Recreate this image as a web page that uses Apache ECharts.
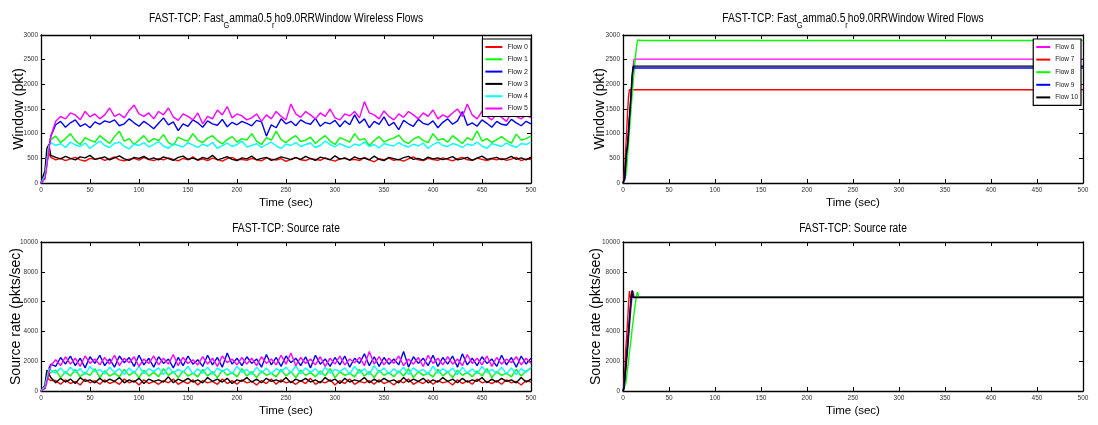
<!DOCTYPE html>
<html><head><meta charset="utf-8">
<script src="https://cdn.jsdelivr.net/npm/echarts@6/dist/echarts.min.js"></script>
<style>html,body{margin:0;padding:0;background:#fff}#c{width:1098px;height:425px}</style>
</head><body><div id="c"></div>
<script>
// ---------- DATA ----------
const X_TICKS = [0, 50, 100, 150, 200, 250, 300, 350, 400, 450, 500];
const Y_TICKS_WIN = [0, 500, 1000, 1500, 2000, 2500, 3000];
const Y_TICKS_RATE = [0, 2000, 4000, 6000, 8000, 10000];

// sample times (sec) for wireless flows
const T_WL = [0,2,4,6,8,10,15,20,25,30,35,40,45,50,55,60,65,70,75,80,85,90,95,100,105,110,115,120,125,130,135,140,145,150,155,160,165,170,175,180,185,190,195,200,205,210,215,220,225,230,235,240,245,250,255,260,265,270,275,280,285,290,295,300,305,310,315,320,325,330,335,340,345,350,355,360,365,370,375,380,385,390,395,400,405,410,415,420,425,430,435,440,445,450,455,460,465,470,475,480,485,490,495,500];

// Wireless window (pkt)
const WIN_F0 = [0,20,150,420,600,520,
 470,500,455,490,520,470,445,500,480,510,
 460,490,530,470,450,485,500,465,520,475,
 455,495,470,510,480,450,500,470,530,460,
 490,455,505,475,445,495,520,470,480,460,
 500,470,450,510,485,465,495,440,480,520,
 470,455,500,480,460,510,475,445,490,500,
 465,480,455,520,470,430,495,475,505,460,
 480,445,490,530,470,455,500,475,460,510,
 480,450,495,520,470,460,505,480,455,490,
 470,500,460,485,520,455,490,475];
const WIN_F1 = [0,10,120,400,750,880,
 950,820,900,1000,860,780,920,870,830,960,
 880,800,940,1050,850,900,780,870,960,830,
 900,860,980,820,760,930,880,850,1000,870,
 820,910,960,860,790,880,940,830,900,870,
 1000,850,780,920,870,1050,880,820,900,960,
 840,870,930,800,890,960,850,780,920,880,
 830,1000,870,900,760,860,940,830,880,910,
 970,850,800,890,940,860,820,1000,870,900,
 830,960,880,800,920,870,1060,850,900,820,
 880,940,860,810,990,870,900,950];
const WIN_F2 = [0,10,100,400,700,950,
 1180,1250,1130,1220,1280,1150,1200,1120,1240,1190,
 1260,1230,1280,1160,1200,1300,1220,1150,1250,1180,
 1100,1210,1320,1180,1240,1060,1200,1150,1280,1220,
 1130,1260,1200,1170,1290,1140,1230,1180,1250,1210,
 1160,1270,1240,950,1180,1120,1300,1200,1250,1160,
 1280,1220,1190,1310,1150,1230,1200,1270,1140,1260,
 1180,1380,1210,1300,1120,1250,1190,1340,1160,1230,
 1080,1270,1200,1150,1290,1210,1180,1260,1120,1230,
 1300,1190,1260,1450,1170,1220,1150,1280,1210,1130,
 1250,1190,1170,1290,1220,1160,1250,1200];
const WIN_F3 = [0,30,250,700,780,560,
 520,490,540,500,470,530,510,560,480,500,
 530,470,510,550,490,460,520,500,540,480,
 510,470,530,495,460,520,545,480,505,470,
 520,490,560,470,500,535,480,455,510,490,
 545,470,500,520,460,490,530,505,475,515,
 480,540,495,460,525,500,470,550,485,510,
 465,530,490,505,470,545,480,455,520,495,
 470,515,540,480,500,465,525,490,510,475,
 500,535,470,490,520,460,505,545,480,500,
 520,475,495,540,480,510,470,525];
const WIN_F4 = [0,15,150,450,750,820,
 760,800,720,830,770,740,810,700,780,850,
 760,720,800,830,740,690,790,760,820,730,
 780,840,750,700,800,760,730,820,770,720,
 790,750,820,700,760,810,740,780,850,730,
 760,800,720,780,830,750,700,790,760,820,
 740,780,810,720,760,850,780,730,800,750,
 720,790,760,830,740,780,710,800,770,750,
 820,760,730,790,750,810,700,780,830,760,
 740,800,770,720,790,760,830,750,700,800,
 770,740,810,760,720,800,780,830];
const WIN_F5 = [0,10,80,350,650,950,
 1250,1350,1300,1420,1380,1280,1450,1340,1400,1300,
 1380,1520,1350,1400,1320,1470,1580,1400,1350,1420,
 1300,1450,1380,1520,1340,1270,1400,1350,1280,1420,
 1200,1350,1300,1480,1380,1550,1320,1400,1360,1280,
 1320,1400,1250,1380,1300,1450,1350,1280,1600,1400,
 1330,1450,1380,1300,1420,1350,1500,1320,1280,1400,
 1360,1450,1320,1650,1420,1380,1300,1460,1350,1280,
 1400,1330,1450,1380,1300,1420,1350,1480,1300,1380,
 1330,1420,1500,1350,1600,1380,1300,1450,1350,1280,
 1400,1330,1250,1420,1350,1300,1380,1320];

// Wireless source rate (pkts/sec)
const RATE_F0 = [0,50,300,900,1000,700,
 700,450,750,500,650,400,800,550,700,450,
 750,500,650,450,800,550,700,400,750,500,
 650,450,700,550,800,450,650,500,750,400,
 700,550,650,450,800,500,700,450,750,550,
 650,400,700,500,800,450,750,550,650,450,
 700,500,850,450,650,550,750,400,700,500,
 800,450,650,550,700,450,750,500,650,400,
 700,550,800,450,650,500,750,450,700,550,
 650,400,750,500,700,450,800,550,650,500,
 700,450,750,550,650,400,700,600];
const RATE_F1 = [0,30,200,700,1100,1250,
 1400,900,1300,1000,1450,950,1250,1050,1500,900,
 1350,1000,1200,950,1450,1050,1300,900,1400,1000,
 1250,950,1500,1050,1300,900,1350,1000,1200,950,
 1450,1000,1300,900,1400,1050,1250,950,1500,1000,
 1300,900,1350,1050,1200,950,1450,1000,1300,900,
 1400,1050,1250,950,1350,1000,1500,900,1300,1050,
 1200,950,1450,1000,1300,900,1400,1050,1250,950,
 1350,1000,1500,900,1300,1050,1200,950,1450,1000,
 1300,900,1400,1050,1250,950,1350,1000,1500,900,
 1300,1050,1200,950,1450,1000,1350,1500];
const RATE_F2 = [0,30,200,800,1500,1800,
 1650,2250,1800,2350,1700,2200,1550,2300,1850,2400,
 1700,2150,1600,2350,1900,2250,1650,2400,1750,2200,
 1600,2300,1850,2150,1550,2250,1700,2350,1800,2100,
 1650,2400,1750,2250,1600,2550,1800,2200,1700,2300,
 1850,2150,1600,2450,1750,2250,1650,2350,1900,2200,
 1700,2300,1550,2400,1800,2150,1650,2250,1750,2350,
 1600,2200,1850,2500,1700,2300,1650,2250,1800,2150,
 1750,2650,1600,2300,1850,2200,1700,2400,1650,2250,
 1800,2350,1600,2500,1750,2200,1700,2300,1850,2150,
 1650,2400,1750,2250,1600,2350,1800,2200];
const RATE_F3 = [0,80,400,1400,1500,900,
 550,850,600,800,500,900,650,750,550,850,
 600,800,650,900,550,750,600,850,500,800,
 650,750,600,950,550,800,650,850,600,750,
 550,900,650,800,600,850,500,750,650,900,
 600,800,550,850,650,750,600,900,550,800,
 650,850,600,750,550,900,650,800,500,850,
 600,750,650,900,550,800,600,850,650,750,
 550,900,600,800,650,850,550,750,600,900,
 650,800,550,850,600,750,650,900,550,800,
 600,850,650,750,550,900,600,800];
const RATE_F4 = [0,40,300,900,1500,1600,
 1200,1550,1150,1600,1250,1500,1100,1650,1300,1450,
 1150,1600,1250,1500,1100,1550,1200,1650,1150,1500,
 1300,1550,1100,1600,1200,1450,1250,1650,1150,1500,
 1200,1600,1100,1550,1300,1500,1150,1650,1250,1450,
 1100,1600,1200,1550,1150,1500,1300,1600,1200,1700,
 1150,1550,1250,1500,1100,1600,1200,1450,1300,1550,
 1150,1650,1200,1500,1100,1700,1250,1550,1150,1500,
 1200,1600,1100,1550,1300,1450,1150,1650,1200,1500,
 1250,1550,1100,1600,1200,1500,1150,1650,1250,1450,
 1200,1600,1150,1550,1100,1500,1250,1600];
const RATE_F5 = [0,20,150,600,1200,1700,
 2100,1700,2300,1800,2200,1650,2350,1850,2150,1750,
 2250,1800,2400,1700,2200,1900,2300,1650,2150,1850,
 2350,1750,2200,1800,2450,1700,2250,1850,2100,1750,
 2300,1800,2200,1650,2350,1900,2150,1750,2250,1800,
 2200,1700,2300,1850,2150,1750,2400,1800,2550,1700,
 2250,1850,2150,1750,2300,1650,2200,1800,2350,1750,
 2150,1900,2250,1700,2650,1800,2300,1750,2200,1850,
 2350,1700,2150,1800,2250,1650,2400,1850,2200,1750,
 2300,1800,2150,1700,2450,1850,2200,1750,2350,1650,
 2250,1800,2150,1900,2300,1750,2200,1850];

// sample times (sec) for wired flows
const T_WD = [0,1,2,3,4,5,6,7,8,9,10,11,12,13,14,15,16,17,20,500];
const WIN_F6  = [0,0,60,300,550,800,1050,1300,1550,1800,2050,2300,2510,2510,2510,2510,2510,2510,2510,2510];
const WIN_F7  = [0,60,350,700,1050,1450,1750,1890,1890,1890,1890,1890,1890,1890,1890,1890,1890,1890,1890,1890];
const WIN_F8  = [0,0,0,150,300,550,800,1050,1300,1550,1800,2050,2250,2450,2650,2800,2900,2890,2890,2890];
const WIN_F9  = [0,0,100,400,650,800,1000,1300,1550,1850,2150,2330,2330,2330,2330,2330,2330,2330,2330,2330];
const WIN_F10 = [0,0,120,450,650,750,1050,1350,1600,1900,2200,2370,2370,2370,2370,2370,2370,2370,2370,2370];
const RATE_F6  = [0,100,600,1300,2000,2700,3500,4300,5100,5800,6400,6700,6300,6295,6295,6295,6295,6295,6295,6295];
const RATE_F7  = [0,400,1500,2800,3700,4700,5800,6700,6290,6290,6290,6290,6290,6290,6290,6290,6290,6290,6290,6290];
const RATE_F8  = [0,0,100,500,1000,1500,2000,2600,3100,3600,4200,4700,5200,5700,6100,6500,6650,6290,6290,6290];
const RATE_F9  = [0,200,900,1700,2500,3300,4100,4900,5700,6400,6700,6285,6285,6285,6285,6285,6285,6285,6285,6285];
const RATE_F10 = [0,150,800,1600,2300,3000,3800,4600,5500,6300,6750,6275,6275,6275,6275,6275,6275,6275,6275,6275];

const WL_NAMES = ['Flow 0','Flow 1','Flow 2','Flow 3','Flow 4','Flow 5'];
const WD_NAMES = ['Flow 6','Flow 7','Flow 8','Flow 9','Flow 10'];

// ---------- STYLE / BUILD ----------
const SANS = '"Liberation Sans",Arial,sans-serif';
const COL = {red:'#ff0000', green:'#00ff00', blue:'#0000ff', black:'#000000', cyan:'#00ffff', magenta:'#ff00ff'};
const WL_COLORS = [COL.red, COL.green, COL.blue, COL.black, COL.cyan, COL.magenta];
const WD_COLORS = [COL.magenta, COL.red, COL.green, COL.blue, COL.black];

const grids = [
  {left: 41, top: 35, width: 490, height: 148},
  {left: 623, top: 35, width: 460, height: 148},
  {left: 41, top: 242, width: 490, height: 149},
  {left: 623, top: 242, width: 460, height: 149}
];
const yName = ['Window (pkt)', 'Window (pkt)', 'Source rate (pkts/sec)', 'Source rate (pkts/sec)'];
const yGap = [15, 16, 18, 20];

const axLine = {show: true, onZero: false, lineStyle: {color: '#000', width: 1.3}};
const tick = {show: true, inside: true, length: 4, lineStyle: {color: '#000', width: 1}};
const plain = v => String(v);

const xAxis = [], yAxis = [];
grids.forEach((g, i) => {
  xAxis.push({type: 'value', gridIndex: i, position: 'bottom', min: X_TICKS[0], max: X_TICKS[X_TICKS.length-1],
    interval: X_TICKS[1]-X_TICKS[0], axisLine: axLine, axisTick: tick, splitLine: {show: false},
    axisLabel: {fontSize: 6.5, color: '#333', margin: 4, fontFamily: SANS, formatter: plain},
    name: 'Time (sec)', nameLocation: 'middle', nameGap: 14, nameMoveOverlap: false,
    nameTextStyle: {fontSize: 11.5, color: '#000', fontFamily: SANS}});
  xAxis.push({type: 'value', gridIndex: i, position: 'top', min: X_TICKS[0], max: X_TICKS[X_TICKS.length-1],
    interval: X_TICKS[1]-X_TICKS[0], axisLine: axLine, axisTick: tick, splitLine: {show: false},
    axisLabel: {show: false}});
  const yt = i < 2 ? Y_TICKS_WIN : Y_TICKS_RATE;
  yAxis.push({type: 'value', gridIndex: i, position: 'left', min: yt[0], max: yt[yt.length-1],
    interval: yt[1]-yt[0], axisLine: axLine, axisTick: tick, splitLine: {show: false},
    axisLabel: {fontSize: 6.5, color: '#333', margin: 3, fontFamily: SANS, formatter: plain},
    name: yName[i], nameLocation: 'middle', nameGap: yGap[i], nameMoveOverlap: false,
    nameTextStyle: {fontSize: 14, color: '#000', fontFamily: SANS}});
  yAxis.push({type: 'value', gridIndex: i, position: 'right', min: yt[0], max: yt[yt.length-1],
    interval: yt[1]-yt[0], axisLine: axLine, axisTick: tick, splitLine: {show: false},
    axisLabel: {show: false}});
});

const pts = (t, v) => t.map((x, k) => [x, v[k]]).filter(p => p[1] !== undefined);
const series = [];
function addLine(name, t, v, color, gi) {
  series.push({type: 'line', name: name, xAxisIndex: gi*2, yAxisIndex: gi*2, data: pts(t, v),
    symbol: 'none', showSymbol: false, color: color, lineStyle: {color: color, width: 1.4},
    animation: false, silent: true, clip: true});
}
[WIN_F0, WIN_F1, WIN_F2, WIN_F3, WIN_F4, WIN_F5].forEach((v, k) => addLine(WL_NAMES[k], T_WL, v, WL_COLORS[k], 0));
[WIN_F6, WIN_F7, WIN_F8, WIN_F9, WIN_F10].forEach((v, k) => addLine(WD_NAMES[k], T_WD, v, WD_COLORS[k], 1));
[RATE_F0, RATE_F1, RATE_F2, RATE_F3, RATE_F4, RATE_F5].forEach((v, k) => addLine('Rate ' + k, T_WL, v, WL_COLORS[k], 2));
[RATE_F6, RATE_F7, RATE_F8, RATE_F9, RATE_F10].forEach((v, k) => addLine('Rate ' + (k+6), T_WD, v, WD_COLORS[k], 3));

const rich = {
  a: {fontSize: 12.5, fontWeight: 'normal', fontFamily: SANS, fill: '#000', lineHeight: 14, verticalAlign: 'top'},
  b: {fontSize: 9, fontWeight: 'normal', fontFamily: SANS, fill: '#000', lineHeight: 10, padding: [9, 0, 0, 0], verticalAlign: 'top'}
};
function titleText(text, cx, top) {
  return {type: 'text', x: cx, y: top, scaleX: 0.82, silent: true,
    style: {text: text, rich: rich, align: 'center', verticalAlign: 'top', fill: '#000', fontSize: 12.5, fontFamily: SANS}};
}
const graphic = [
  titleText('{a|FAST-TCP: Fast}{b|G}{a|amma0.5}{b|r}{a|ho9.0RRWindow Wireless Flows}', 286, 12),
  titleText('{a|FAST-TCP: Fast}{b|G}{a|amma0.5}{b|r}{a|ho9.0RRWindow Wired Flows}', 853, 12),
  titleText('{a|FAST-TCP: Source rate}', 286, 222),
  titleText('{a|FAST-TCP: Source rate}', 853, 222)
];

function legendObj(names, right, top, gap, iw, fs) {
  return {data: names, orient: 'vertical', right: right, top: top, backgroundColor: '#fff',
    borderColor: '#000', borderWidth: 1.2, borderRadius: 0, padding: [4, 3, 4, 3],
    icon: 'rect', itemWidth: iw, itemHeight: 2, itemGap: gap, selectedMode: false,
    textStyle: {fontSize: fs, color: '#222', fontFamily: SANS, lineHeight: 8, height: 8}};
}
const legend = [legendObj(WL_NAMES, 567, 39, 4.3, 17, 7), legendObj(WD_NAMES, 17, 39, 4.6, 14, 6.5)];

const chart = echarts.init(document.getElementById('c'), null, {renderer: 'canvas'});
chart.setOption({animation: false, backgroundColor: '#fff', grid: grids, xAxis: xAxis, yAxis: yAxis,
  series: series, graphic: graphic, legend: legend});
</script></body></html>
